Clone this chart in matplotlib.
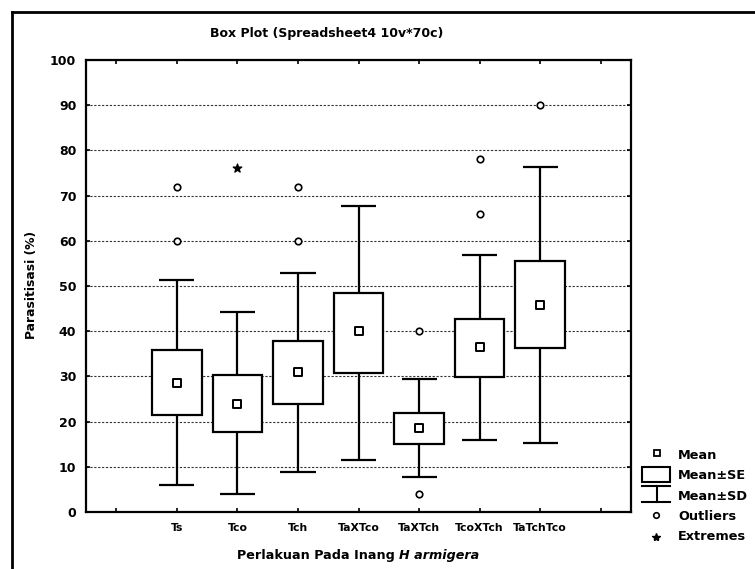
import numpy as np
import matplotlib
matplotlib.use('Agg')
import matplotlib.pyplot as plt
from matplotlib.patches import Rectangle
from matplotlib.lines import Line2D

plt.rcParams['font.family'] = ['DejaVu Sans']
plt.rcParams['font.weight'] = 'bold'

# data
groups = ['Ts', 'Tco', 'Tch', 'TaXTco', 'TaXTch', 'TcoXTch', 'TaTchTco']
means = [28.6, 24.0, 31.0, 40.0, 18.5, 36.4, 45.9]
se_hi = [35.8, 30.3, 37.8, 48.4, 21.8, 42.8, 55.5]
se_lo = [21.5, 17.6, 23.9, 30.8, 15.0, 29.9, 36.2]
sd_hi = [51.4, 44.2, 52.9, 67.8, 29.4, 56.8, 76.3]
sd_lo = [6.0, 3.9, 8.8, 11.6, 7.8, 15.9, 15.3]
outliers = {'Ts': [72, 60], 'Tch': [72, 60], 'TaXTch': [40, 4],
            'TcoXTch': [78, 66], 'TaTchTco': [90]}
extremes = {'Tco': [76]}

fig = plt.figure(figsize=(7.55, 5.69), dpi=100)
ax = fig.add_axes([0.1139, 0.1002, 0.7219, 0.7944])

pos = np.arange(1, len(groups) + 1)
box_w = 0.82
cap_w = 0.58

ax.vlines(pos, sd_lo, sd_hi, color='black', lw=1.6, zorder=2)
ax.hlines(sd_hi, pos - cap_w / 2, pos + cap_w / 2, color='black', lw=1.6, zorder=2)
ax.hlines(sd_lo, pos - cap_w / 2, pos + cap_w / 2, color='black', lw=1.6, zorder=2)
ax.bar(pos, np.array(se_hi) - np.array(se_lo), bottom=se_lo, width=box_w,
       facecolor='white', edgecolor='black', linewidth=1.6, zorder=3)
ax.scatter(pos, means, marker='s', s=28, facecolor='white', edgecolor='black',
           linewidths=1.4, zorder=4)
for g, vals in outliers.items():
    i = groups.index(g) + 1
    ax.scatter([i] * len(vals), vals, marker='o', s=22, facecolor='white',
               edgecolor='black', linewidths=1.2, zorder=4)
for g, vals in extremes.items():
    i = groups.index(g) + 1
    ax.scatter([i] * len(vals), vals, marker='*', s=40, color='black', zorder=4)

ax.set_xlim(-0.5, len(groups) + 1.5)
ax.set_ylim(0, 100)
ax.set_xticks(np.arange(0, len(groups) + 2))
ax.set_xticklabels([''] + groups + [''], fontsize=7.8, fontweight='bold')
ax.set_yticks(np.arange(0, 101, 10))
ax.set_yticklabels([str(v) for v in range(0, 101, 10)], fontsize=9, fontweight='bold')
ax.tick_params(direction='in', length=3, width=1.2, top=True, right=True)
ax.tick_params(axis='y', pad=7)
ax.tick_params(axis='x', pad=8)
ax.yaxis.grid(True, linestyle=(0, (2, 1.5)), color='#333333', lw=0.8)
ax.set_axisbelow(True)
for s in ax.spines.values():
    s.set_linewidth(1.6)

fig.text(32 / 755, 1 - 285 / 569, 'Parasitisasi (%)', fontsize=8.9, fontweight='bold',
         rotation=90, ha='center', va='center')
xl1 = fig.text(237 / 755, 1 - 555 / 569, 'Perlakuan Pada Inang ', fontsize=9.2,
               fontweight='bold', ha='left', va='center')
fig.canvas.draw()
bb = xl1.get_window_extent()
fig.text(bb.x1 / fig.bbox.width, 1 - 555 / 569, 'H armigera', fontsize=9.2,
         fontweight='bold', style='italic', ha='left', va='center')
fig.text(327 / 755, 1 - 34 / 569, 'Box Plot (Spreadsheet4 10v*70c)', fontsize=9,
         fontweight='bold', ha='center', va='center')

# legend and outer frame drawn in pixel coordinates
ov = fig.add_axes([0, 0, 1, 1], facecolor='none')
ov.set_xlim(0, 755)
ov.set_ylim(569, 0)
ov.axis('off')
ov.add_line(Line2D([12, 12], [12, 569], color='black', lw=2))
ov.add_line(Line2D([12, 755], [12, 12], color='black', lw=2))

tx = 678
fs = 9.3
ov.plot([657], [453], marker='s', ms=5, mfc='white', mec='black', mew=1.3)
ov.text(tx, 455, 'Mean', fontsize=fs, fontweight='bold', va='center')
ov.add_patch(Rectangle((642, 467), 28, 15, fill=False, edgecolor='black', lw=1.5))
ov.text(tx, 475, 'Mean±SE', fontsize=fs, fontweight='bold', va='center')
ov.add_line(Line2D([642, 670], [486, 486], color='black', lw=1.5))
ov.add_line(Line2D([657, 657], [486, 502], color='black', lw=1.5))
ov.add_line(Line2D([642, 670], [502, 502], color='black', lw=1.5))
ov.text(tx, 496, 'Mean±SD', fontsize=fs, fontweight='bold', va='center')
ov.plot([656], [515], marker='o', ms=4, mfc='white', mec='black', mew=1.2)
ov.text(tx, 516, 'Outliers', fontsize=fs, fontweight='bold', va='center')
ov.plot([656], [537], marker='*', ms=6, color='black')
ov.text(tx, 536, 'Extremes', fontsize=fs, fontweight='bold', va='center')

fig.savefig('out.png', dpi=100)
